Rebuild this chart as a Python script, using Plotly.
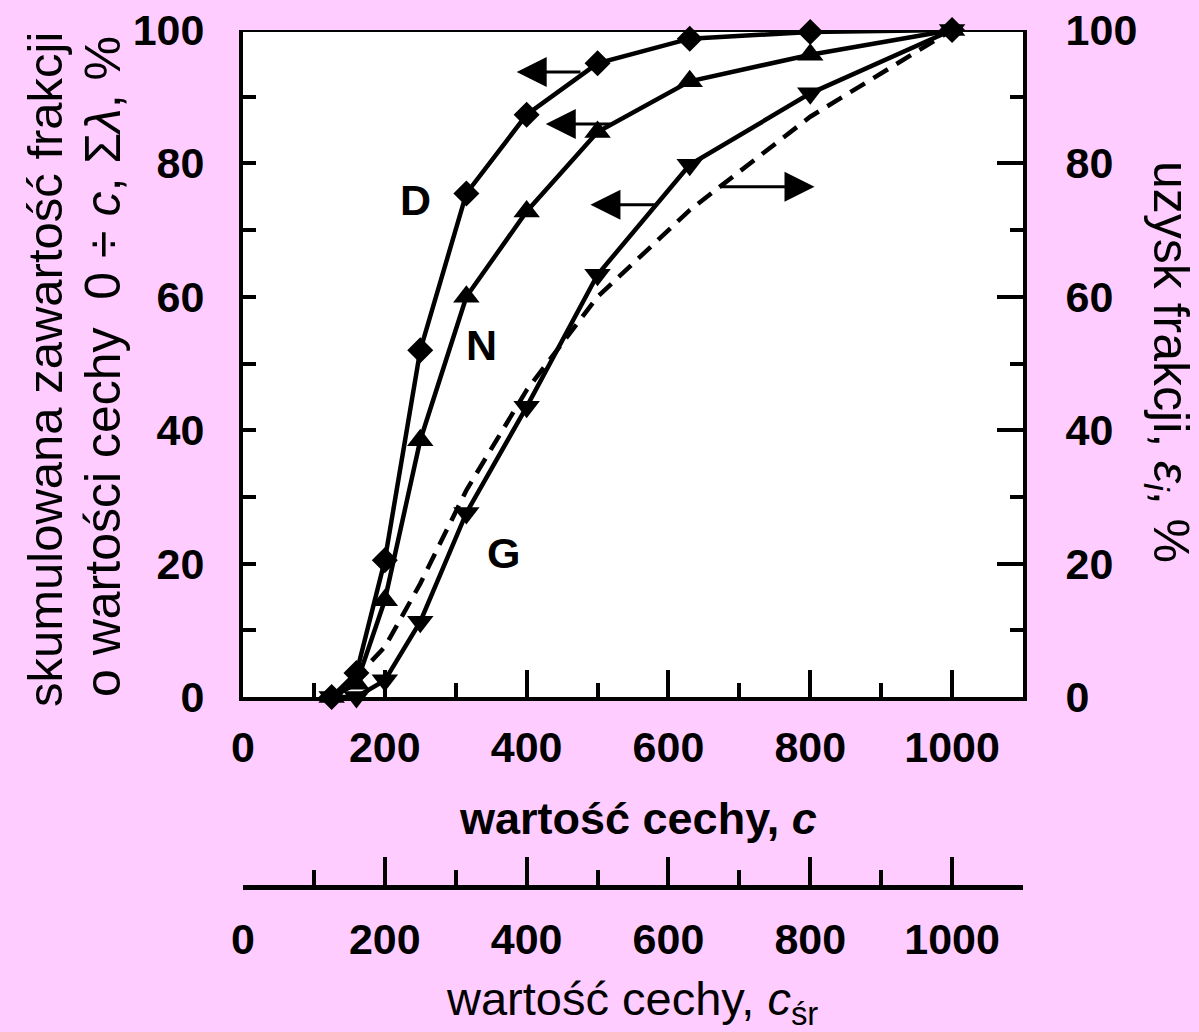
import plotly.graph_objects as go

# ---- data ----
c_vals = [125, 160, 200, 250, 315, 400, 500, 630, 800, 1000]
D_vals = [0, 3.6, 20.5, 52, 75.5, 87.3, 95, 98.7, 99.7, 100]
N_vals = [0, 2, 14.5, 38.5, 60, 72.8, 84.7, 92.3, 96.3, 100]
G_vals = [0, 0, 2.5, 11.3, 27.6, 43.5, 63.3, 79.8, 90.5, 100]
eps_vals = [0, 3, 7.5, 17, 31, 46, 60, 73, 87, 100]

PINK = "rgb(255,204,255)"
FONT = "Liberation Sans, Arial, sans-serif"

W, H = 1199, 1032
L, R, T, B = 243, 176, 30, 145
PW, PH = W - L - R, H - T - B
ybot_px = 697


def px(xp):
    return (xp - L) / PW


def py(yp):
    return (H - B - yp) / PH


fig = go.Figure()

line = dict(color="black", width=4.5)
fig.add_trace(go.Scatter(x=c_vals, y=D_vals, mode="lines+markers", line=line,
                         marker=dict(symbol="diamond", size=20, color="black"),
                         cliponaxis=False, showlegend=False))
fig.add_trace(go.Scatter(x=c_vals, y=N_vals, mode="lines+markers", line=line,
                         marker=dict(symbol="triangle-up", size=23, color="black"),
                         cliponaxis=False, showlegend=False))
fig.add_trace(go.Scatter(x=c_vals, y=G_vals, mode="lines+markers", line=line,
                         marker=dict(symbol="triangle-down", size=23, color="black"),
                         cliponaxis=False, showlegend=False))
fig.add_trace(go.Scatter(x=c_vals, y=eps_vals, mode="lines", xaxis="x2", yaxis="y2",
                         line=dict(color="black", width=4.5, dash="17px,10px"),
                         cliponaxis=False, showlegend=False))

tickfont = dict(family=FONT, size=43, color="black", weight="bold")
common = dict(showgrid=False, zeroline=False, showline=True, linecolor="black",
              tickcolor="black", tickfont=tickfont, automargin=False)

ydom0 = py(ybot_px)

fig.update_layout(
    width=W, height=H,
    margin=dict(l=L, r=R, t=T, b=B, pad=0, autoexpand=False),
    paper_bgcolor=PINK, plot_bgcolor=PINK,
    xaxis=dict(range=[0, 1100], domain=[0, 1], anchor="y", linewidth=4,
               ticks="inside", ticklen=27, tickwidth=4, dtick=200, tick0=0,
               minor=dict(dtick=100, tick0=0, ticks="inside", ticklen=14, tickwidth=4, tickcolor="black"),
               ticklabelstandoff=9, **common),
    xaxis2=dict(range=[0, 1100], overlaying="x", anchor="free", position=0, side="bottom",
                linewidth=5, ticks="inside", ticklen=28, tickwidth=4, dtick=200, tick0=0,
                minor=dict(dtick=100, tick0=0, ticks="inside", ticklen=15, tickwidth=4, tickcolor="black"),
                ticklabelstandoff=12, **common),
    yaxis=dict(range=[0, 100], domain=[ydom0, 1], anchor="x", linewidth=4,
               ticks="inside", ticklen=13, tickwidth=4, dtick=20, tick0=0,
               minor=dict(dtick=10, tick0=0, ticks="inside", ticklen=13, tickwidth=4, tickcolor="black"),
               ticklabelstandoff=26, **common),
    yaxis2=dict(range=[0, 100], overlaying="y", side="right", anchor="x", linewidth=4,
                ticks="inside", ticklen=26, tickwidth=4, dtick=20, tick0=0,
                minor=dict(dtick=10, tick0=0, ticks="inside", ticklen=13, tickwidth=4, tickcolor="black"),
                ticklabelstandoff=30, **common),
)

# white plotting area and top border
fig.add_shape(type="rect", xref="x", yref="y", x0=0, x1=1100, y0=0, y1=100,
              fillcolor="white", line=dict(width=0), layer="below")
fig.add_shape(type="line", xref="x", yref="y", x0=0, x1=1100, y0=100, y1=100,
              line=dict(color="black", width=4), layer="above")

# arrows: (tip x, tip y, tail x, tail y)
arrows = [(386, 93.7, 478, 93.7), (427, 85.9, 520, 85.9), (490, 73.8, 583, 73.8), (806, 76.5, 673, 76.5)]
for tx, ty, sx, sy in arrows:
    fig.add_annotation(x=tx, y=ty, ax=sx, ay=sy, xref="x", yref="y", axref="x", ayref="y",
                       text="", showarrow=True, arrowhead=2, arrowsize=2.0, arrowwidth=3,
                       arrowcolor="black")

# curve labels
for txt, cx, cy in [("D", 243, 74.5), ("N", 337, 52.8), ("G", 367, 21.6)]:
    fig.add_annotation(x=cx, y=cy, xref="x", yref="y", text=txt, showarrow=False,
                       font=dict(family=FONT, size=43, color="black", weight="bold"))

# axis titles
fig.add_annotation(x=px(45), y=py(370), xref="paper", yref="paper",
                   text="skumulowana zawartość frakcji", textangle=-90, showarrow=False,
                   font=dict(family=FONT, size=49, color="black"), xanchor="center", yanchor="middle")
fig.add_annotation(x=px(103), y=py(367), xref="paper", yref="paper",
                   text="o wartości cechy  0 ÷ <i>c</i>, Σ<i>λ</i>, %", textangle=-90, showarrow=False,
                   font=dict(family=FONT, size=50, color="black"), xanchor="center", yanchor="middle")
fig.add_annotation(x=px(1168), y=py(362), xref="paper", yref="paper",
                   text="uzysk frakcji, <i>ε</i><sub><i>i</i></sub>, %", textangle=90, showarrow=False,
                   font=dict(family=FONT, size=50, color="black"), xanchor="center", yanchor="middle")
fig.add_annotation(x=px(638), y=py(818), xref="paper", yref="paper",
                   text="wartość cechy, <i>c</i>", showarrow=False,
                   font=dict(family=FONT, size=45, color="black", weight="bold"),
                   xanchor="center", yanchor="middle")
fig.add_annotation(x=px(632), y=py(1002), xref="paper", yref="paper",
                   text="wartość cechy, <i>c</i><sub>śr</sub>", showarrow=False,
                   font=dict(family=FONT, size=47, color="black"), xanchor="center", yanchor="middle")

fig.write_html("out.html")
